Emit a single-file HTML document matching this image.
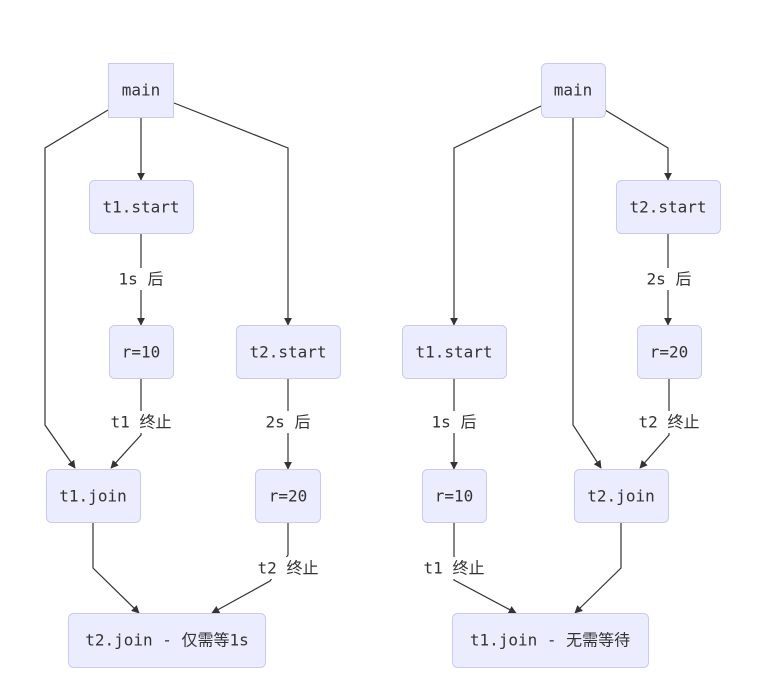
<!DOCTYPE html>
<html><head><meta charset="utf-8"><style>
html,body{margin:0;padding:0;background:#fff;width:772px;height:682px;overflow:hidden}
svg text{font-family:"DejaVu Sans Mono","Liberation Mono","Noto Sans CJK SC",monospace;font-size:16px;fill:#333;text-anchor:middle;dominant-baseline:central}
.n{fill:#ECECFF;stroke:#c9c9f5;stroke-width:1}
.e{fill:none;stroke:#333;stroke-width:1.2}
.lb{fill:#fff;stroke:none}
</style></head><body>
<svg width="772" height="682" viewBox="0 0 772 682">
<defs><marker id="a" viewBox="0 0 10 10" refX="9" refY="5" markerWidth="8" markerHeight="8" orient="auto" markerUnits="userSpaceOnUse"><path d="M0,0L10,5L0,10z" fill="#333"/></marker></defs>
<path class="e" d="M108,110 L45,148 L45,425 L75,468" marker-end="url(#a)"/>
<path class="e" d="M141,117 L141,180" marker-end="url(#a)"/>
<path class="e" d="M174,103 L288,148 L288,325" marker-end="url(#a)"/>
<path class="e" d="M141,233 L141,325" marker-end="url(#a)"/>
<path class="e" d="M141,378 L141,435 L111,468" marker-end="url(#a)"/>
<path class="e" d="M288,378 L288,469" marker-end="url(#a)"/>
<path class="e" d="M93,522 L93,568 L139,613" marker-end="url(#a)"/>
<path class="e" d="M288,522 L288,555 L270,581 L212,613" marker-end="url(#a)"/>
<path class="e" d="M541,106 L454,148 L454,325" marker-end="url(#a)"/>
<path class="e" d="M573,117 L573,425 L601,468" marker-end="url(#a)"/>
<path class="e" d="M605,110 L668,148 L668,180" marker-end="url(#a)"/>
<path class="e" d="M668,233 L668,325" marker-end="url(#a)"/>
<path class="e" d="M669,378 L669,435 L640,468" marker-end="url(#a)"/>
<path class="e" d="M454,378 L454,469" marker-end="url(#a)"/>
<path class="e" d="M454,522 L454,580 L516,613" marker-end="url(#a)"/>
<path class="e" d="M621,522 L621,568 L575,613" marker-end="url(#a)"/>
<rect class="lb" x="113" y="268" width="56" height="22"/><text x="141" y="279">1s 后</text>
<rect class="lb" x="104" y="411" width="74" height="22"/><text x="141" y="422">t1 终止</text>
<rect class="lb" x="260" y="411" width="56" height="22"/><text x="288" y="422">2s 后</text>
<rect class="lb" x="251" y="557" width="74" height="22"/><text x="288" y="568">t2 终止</text>
<rect class="lb" x="641" y="268" width="56" height="22"/><text x="669" y="279">2s 后</text>
<rect class="lb" x="632" y="411" width="74" height="22"/><text x="669" y="422">t2 终止</text>
<rect class="lb" x="426" y="411" width="56" height="22"/><text x="454" y="422">1s 后</text>
<rect class="lb" x="417" y="557" width="74" height="22"/><text x="454" y="568">t1 终止</text>
<rect class="n" x="108.5" y="63.5" width="65" height="54"/><text x="141" y="90">main</text>
<rect class="n" x="89.5" y="180.5" width="104" height="53" rx="5"/><text x="141" y="207">t1.start</text>
<rect class="n" x="109.5" y="325.5" width="64" height="53" rx="5"/><text x="141" y="352">r=10</text>
<rect class="n" x="236.5" y="325.5" width="104" height="53" rx="5"/><text x="288" y="352">t2.start</text>
<rect class="n" x="46.5" y="469.5" width="94" height="53" rx="5"/><text x="93" y="496">t1.join</text>
<rect class="n" x="255.5" y="469.5" width="65" height="53" rx="5"/><text x="288" y="496">r=20</text>
<rect class="n" x="68.5" y="613.5" width="197" height="54" rx="5"/><text x="167" y="640">t2.join - 仅需等1s</text>
<rect class="n" x="541.5" y="63.5" width="64" height="54" rx="5"/><text x="573" y="90">main</text>
<rect class="n" x="616.5" y="180.5" width="104" height="53" rx="5"/><text x="668" y="207">t2.start</text>
<rect class="n" x="402.5" y="325.5" width="104" height="53" rx="5"/><text x="454" y="352">t1.start</text>
<rect class="n" x="637.5" y="325.5" width="64" height="53" rx="5"/><text x="669" y="352">r=20</text>
<rect class="n" x="422.5" y="469.5" width="64" height="53" rx="5"/><text x="454" y="496">r=10</text>
<rect class="n" x="574.5" y="469.5" width="94" height="53" rx="5"/><text x="621" y="496">t2.join</text>
<rect class="n" x="452.5" y="613.5" width="196" height="54" rx="5"/><text x="550" y="640">t1.join - 无需等待</text>
</svg>
</body></html>
